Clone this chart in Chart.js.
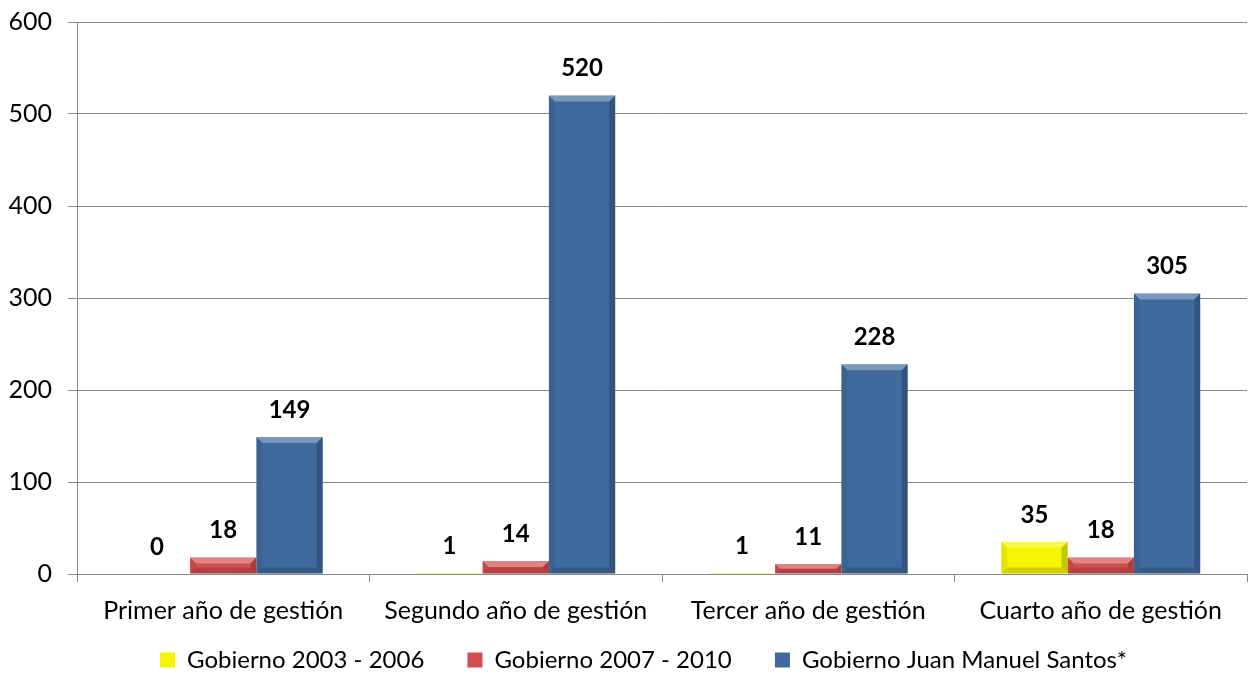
<!DOCTYPE html>
<html>
<head>
<meta charset="utf-8">
<script src="https://cdn.jsdelivr.net/npm/chart.js@4/dist/chart.umd.min.js"></script>
<style>
  html, body { margin: 0; padding: 0; background: #fff; }
  .chart-wrapper { width: 1249px; height: 675px; position: relative; }
</style>
</head>
<body>
<div class="chart-wrapper"><canvas id="barChart"></canvas></div>
<script>
const categories = ['Primer año de gestión', 'Segundo año de gestión', 'Tercer año de gestión', 'Cuarto año de gestión'];
const seriesNames = ['Gobierno 2003 - 2006', 'Gobierno 2007 - 2010', 'Gobierno Juan Manuel Santos*'];
const gob2003 = [0, 1, 1, 35];
const gob2007 = [18, 14, 11, 18];
const gobSantos = [149, 520, 228, 305];
const yTicks = [0, 100, 200, 300, 400, 500, 600];

const FONT = 'Lato, "Open Sans", sans-serif';
const TICK_FS = 25;
const LEGEND_FS = 24;
const LABEL_FS = 24;

// bevel look like the office charts
const bevelPlugin = {
  id: 'bevel',
  afterDatasetsDraw(chart) {
    const ctx = chart.ctx;
    chart.data.datasets.forEach((ds, i) => {
      const meta = chart.getDatasetMeta(i);
      meta.data.forEach(bar => {
        const l = bar.x - bar.width / 2;
        const r = bar.x + bar.width / 2;
        const t = Math.min(bar.y, bar.base);
        const bot = Math.max(bar.y, bar.base);
        const h = bot - t;
        if (h < 1) return;
        const b = Math.min(6, h / 2, bar.width / 2);
        ctx.save();
        ctx.fillStyle = 'rgba(255,255,255,0.3)';
        ctx.beginPath();
        ctx.moveTo(l, t); ctx.lineTo(r, t); ctx.lineTo(r - b, t + b); ctx.lineTo(l + b, t + b);
        ctx.closePath(); ctx.fill();
        ctx.fillStyle = 'rgba(0,0,0,0.07)';
        ctx.beginPath();
        ctx.moveTo(l, t); ctx.lineTo(l + b, t + b); ctx.lineTo(l + b, bot - b); ctx.lineTo(l, bot);
        ctx.closePath(); ctx.fill();
        ctx.fillStyle = 'rgba(0,0,0,0.2)';
        ctx.beginPath();
        ctx.moveTo(r, t); ctx.lineTo(r - b, t + b); ctx.lineTo(r - b, bot - b); ctx.lineTo(r, bot);
        ctx.closePath(); ctx.fill();
        ctx.fillStyle = 'rgba(0,0,0,0.15)';
        ctx.beginPath();
        ctx.moveTo(l, bot); ctx.lineTo(l + b, bot - b); ctx.lineTo(r - b, bot - b); ctx.lineTo(r, bot);
        ctx.closePath(); ctx.fill();
        ctx.restore();
      });
    });
  }
};

const valueLabels = {
  id: 'valueLabels',
  afterDatasetsDraw(chart) {
    const ctx = chart.ctx;
    ctx.save();
    ctx.font = 'bold ' + LABEL_FS + 'px ' + FONT;
    ctx.fillStyle = '#000';
    ctx.textAlign = 'center';
    ctx.textBaseline = 'middle';
    chart.data.datasets.forEach((ds, i) => {
      chart.getDatasetMeta(i).data.forEach((bar, j) => {
        ctx.fillText(ds.data[j], bar.x, bar.y - 27);
      });
    });
    ctx.restore();
  }
};

// legend in the original sits a bit right of centre and low
const legendShift = {
  id: 'legendShift',
  afterLayout(chart) {
    chart.legend.left += 20;
    chart.legend.right += 20;
    chart.legend.top += 7;
    chart.legend.bottom += 7;
  }
};

const ctx = document.getElementById('barChart').getContext('2d');
new Chart(ctx, {
  type: 'bar',
  data: {
    labels: categories,
    datasets: [
      { label: seriesNames[0], data: gob2003, backgroundColor: '#F5F500', borderWidth: 0 },
      { label: seriesNames[1], data: gob2007, backgroundColor: '#D34D4D', borderWidth: 0 },
      { label: seriesNames[2], data: gobSantos, backgroundColor: '#3F6A9E', borderWidth: 0 },
    ],
  },
  options: {
    responsive: true,
    maintainAspectRatio: false,
    animation: false,
    datasets: { bar: { categoryPercentage: 0.68, barPercentage: 1 } },
    layout: { padding: { top: 22, right: 2, left: 0, bottom: 0 } },
    plugins: {
      tooltip: { enabled: false },
      legend: {
        position: 'bottom',
        labels: {
          boxWidth: 15,
          boxHeight: 15,
          padding: 1,
          color: '#000',
          font: { size: LEGEND_FS, family: FONT, lineHeight: 1 },
          generateLabels: chart => {
            const items = Chart.defaults.plugins.legend.labels.generateLabels(chart);
            items.forEach((it, i) => {
              if (i < items.length - 1) it.text = it.text + '\u2003\u2003 ';
            });
            return items;
          },
        },
      },
    },
    scales: {
      x: {
        offset: true,
        grid: { display: true, drawOnChartArea: false, color: '#888', tickLength: 8, offset: true },
        border: { color: '#888' },
        ticks: { color: '#000', font: { size: TICK_FS, family: FONT }, padding: 14, maxRotation: 0 },
      },
      y: {
        min: 0,
        max: 600,
        afterBuildTicks: axis => { axis.ticks = yTicks.map(v => ({ value: v })); },
        afterFit: axis => { axis.width = 77; axis.paddingTop = 0; },
        grid: { color: '#888', tickLength: 9 },
        border: { color: '#888' },
        ticks: { color: '#000', font: { size: TICK_FS, family: FONT }, padding: 16 },
      },
    },
  },
  plugins: [bevelPlugin, valueLabels, legendShift],
});
</script>
</body>
</html>
